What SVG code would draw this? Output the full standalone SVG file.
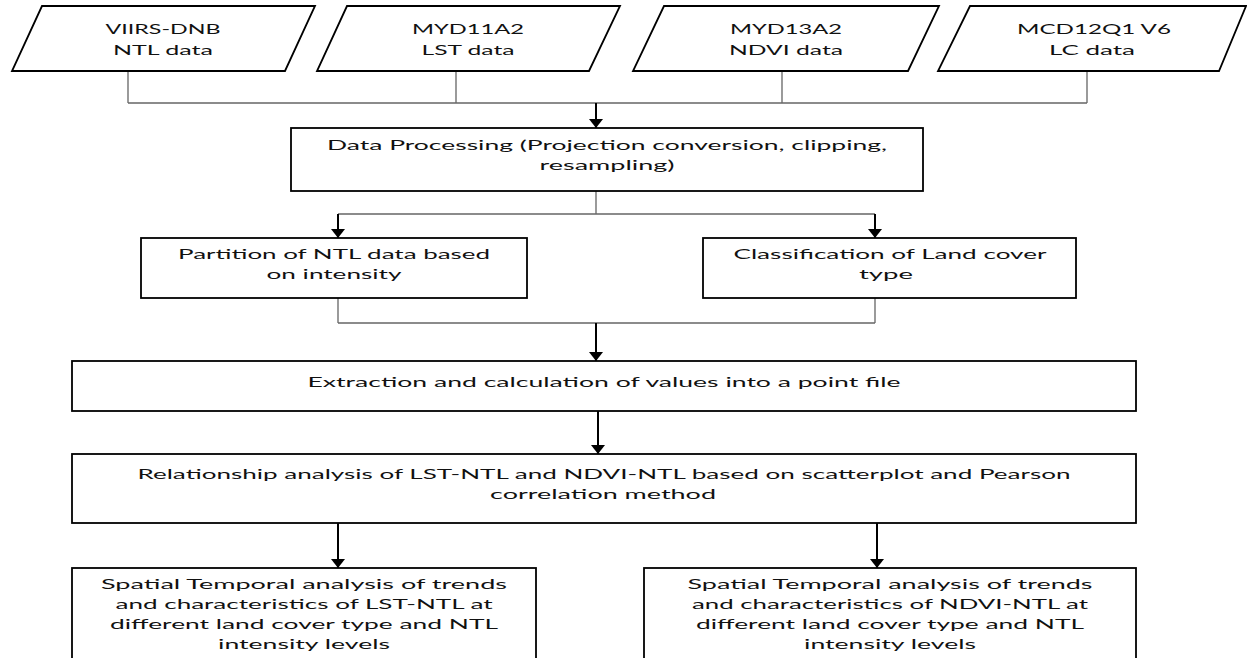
<svg xmlns="http://www.w3.org/2000/svg" width="1247" height="658" viewBox="0 0 1247 658">
<style>
.shape{fill:#fff;stroke:#000;stroke-width:1.8}
.t{font-family:Lato,"Liberation Sans",sans-serif;font-size:14px;fill:#111;text-anchor:middle}
.thin{stroke:#666;stroke-width:1.3;fill:none}
.arr{stroke:#000;stroke-width:2;fill:none;marker-end:url(#ah)}
</style>
<defs>
<marker id="ah" viewBox="0 0 9 14" refX="9" refY="7" markerWidth="9" markerHeight="14" markerUnits="userSpaceOnUse" orient="auto">
<path d="M0,0 L9,7 L0,14 z" fill="#000"/>
</marker>
</defs>
<rect width="1247" height="658" fill="#fff"/>
<g id="connectors">
<path class="thin" d="M128,71 V103 M456,71 V103 M782,71 V103 M1087,71 V103 M128,103 H1087"/>
<line class="arr" x1="596" y1="103" x2="596" y2="128"/>
<path class="thin" d="M596,191 V214 M338,214 H875"/>
<line class="arr" x1="338" y1="214" x2="338" y2="238"/>
<line class="arr" x1="875" y1="214" x2="875" y2="238"/>
<path class="thin" d="M338,298 V323 M875,298 V323 M338,323 H875"/>
<line class="arr" x1="596" y1="323" x2="596" y2="361"/>
<line class="arr" x1="598" y1="411" x2="598" y2="454"/>
<line class="arr" x1="338" y1="523" x2="338" y2="568"/>
<line class="arr" x1="877" y1="523" x2="877" y2="568"/>
</g>
<g id="n1">
<polygon class="shape" points="42,6 315,6 285,71 12,71"/>
<text class="t" x="163" y="34" textLength="115" lengthAdjust="spacingAndGlyphs">VIIRS-DNB</text>
<text class="t" x="163" y="55" textLength="100" lengthAdjust="spacingAndGlyphs">NTL data</text>
</g>
<g id="n2">
<polygon class="shape" points="347,6 620,6 589,71 317,71"/>
<text class="t" x="468" y="34" textLength="112" lengthAdjust="spacingAndGlyphs">MYD11A2</text>
<text class="t" x="468" y="55" textLength="93" lengthAdjust="spacingAndGlyphs">LST data</text>
</g>
<g id="n3">
<polygon class="shape" points="664,6 939,6 908,71 633,71"/>
<text class="t" x="786" y="34" textLength="112" lengthAdjust="spacingAndGlyphs">MYD13A2</text>
<text class="t" x="786" y="55" textLength="114" lengthAdjust="spacingAndGlyphs">NDVI data</text>
</g>
<g id="n4">
<polygon class="shape" points="970,6 1246,6 1219,71 938,71"/>
<text class="t" x="1094" y="34" textLength="154" lengthAdjust="spacingAndGlyphs">MCD12Q1 V6</text>
<text class="t" x="1092" y="55" textLength="86" lengthAdjust="spacingAndGlyphs">LC data</text>
</g>
<g id="n5">
<rect class="shape" x="291" y="128" width="632" height="63"/>
<text class="t" x="607" y="150" textLength="560" lengthAdjust="spacingAndGlyphs">Data Processing (Projection conversion, clipping,</text>
<text class="t" x="607" y="170" textLength="135" lengthAdjust="spacingAndGlyphs">resampling)</text>
</g>
<g id="n6">
<rect class="shape" x="141" y="238" width="386" height="60"/>
<text class="t" x="334" y="259" textLength="312" lengthAdjust="spacingAndGlyphs">Partition of NTL data based</text>
<text class="t" x="334" y="279" textLength="135" lengthAdjust="spacingAndGlyphs">on intensity</text>
</g>
<g id="n7">
<rect class="shape" x="703" y="238" width="373" height="60"/>
<text class="t" x="890" y="259" textLength="313" lengthAdjust="spacingAndGlyphs">Classification of Land cover</text>
<text class="t" x="886" y="279" textLength="54" lengthAdjust="spacingAndGlyphs">type</text>
</g>
<g id="n8">
<rect class="shape" x="72" y="361" width="1064" height="50"/>
<text class="t" x="604" y="387" textLength="593" lengthAdjust="spacingAndGlyphs">Extraction and calculation of values into a point file</text>
</g>
<g id="n9">
<rect class="shape" x="72" y="454" width="1064" height="69"/>
<text class="t" x="604" y="479" textLength="933" lengthAdjust="spacingAndGlyphs">Relationship analysis of LST-NTL and NDVI-NTL based on scatterplot and Pearson</text>
<text class="t" x="603" y="499" textLength="226" lengthAdjust="spacingAndGlyphs">correlation method</text>
</g>
<g id="n10">
<rect class="shape" x="72" y="568" width="464" height="110"/>
<text class="t" x="304" y="589" textLength="406" lengthAdjust="spacingAndGlyphs">Spatial Temporal analysis of trends</text>
<text class="t" x="304" y="609" textLength="377" lengthAdjust="spacingAndGlyphs">and characteristics of LST-NTL at</text>
<text class="t" x="304" y="629" textLength="388" lengthAdjust="spacingAndGlyphs">different land cover type and NTL</text>
<text class="t" x="304" y="649" textLength="172" lengthAdjust="spacingAndGlyphs">intensity levels</text>
</g>
<g id="n11">
<rect class="shape" x="644" y="568" width="492" height="110"/>
<text class="t" x="890" y="589" textLength="405" lengthAdjust="spacingAndGlyphs">Spatial Temporal analysis of trends</text>
<text class="t" x="890" y="609" textLength="396" lengthAdjust="spacingAndGlyphs">and characteristics of NDVI-NTL at</text>
<text class="t" x="890" y="629" textLength="388" lengthAdjust="spacingAndGlyphs">different land cover type and NTL</text>
<text class="t" x="890" y="649" textLength="172" lengthAdjust="spacingAndGlyphs">intensity levels</text>
</g>
</svg>
